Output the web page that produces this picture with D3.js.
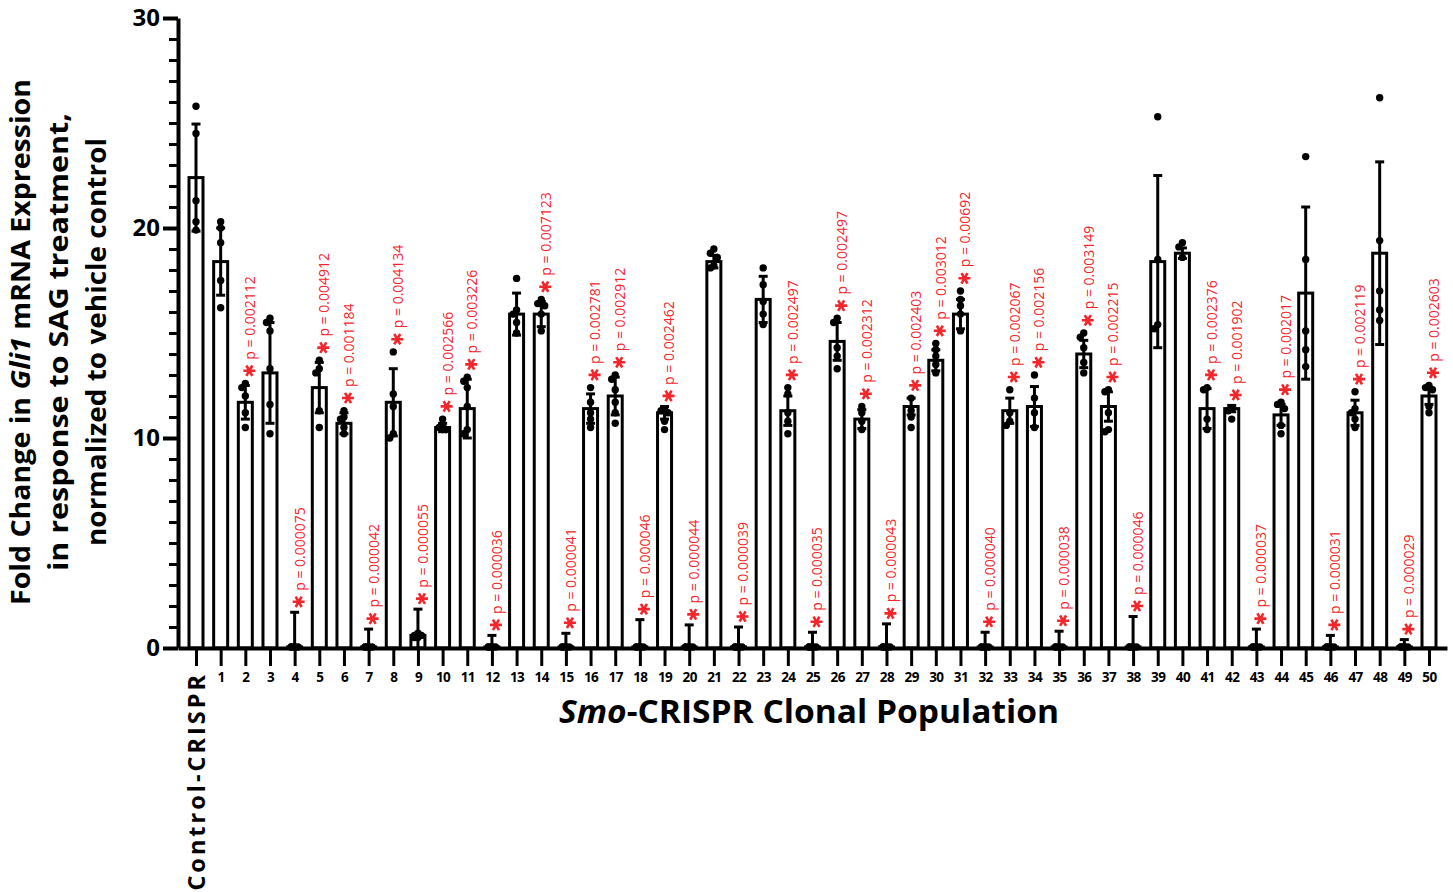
<!DOCTYPE html>
<html>
<head>
<meta charset="utf-8">
<script src="https://cdn.jsdelivr.net/npm/d3@7"></script>
<style>
  body { margin: 0; background: #fff; }
  svg { display: block; }
</style>
</head>
<body>
<div id="chart"></div>
<script>
const categories = ['Control-CRISPR', '1', '2', '3', '4', '5', '6', '7', '8', '9', '10',
  '11', '12', '13', '14', '15', '16', '17', '18', '19', '20',
  '21', '22', '23', '24', '25', '26', '27', '28', '29', '30',
  '31', '32', '33', '34', '35', '36', '37', '38', '39', '40',
  '41', '42', '43', '44', '45', '46', '47', '48', '49', '50']

const means = [22.4, 18.4, 11.7, 13.1, 0.05, 12.4, 10.7, 0.05, 11.7, 0.6, 10.5,
  11.4, 0.05, 15.9, 15.9, 0.05, 11.4, 12.0, 0.05, 11.2, 0.05,
  18.4, 0.05, 16.6, 11.3, 0.05, 14.6, 10.9, 0.05, 11.5, 13.7,
  15.9, 0.05, 11.3, 11.5, 0.05, 14.0, 11.5, 0.05, 18.4, 18.8,
  11.4, 11.4, 0.05, 11.1, 16.9, 0.05, 11.2, 18.8, 0.05, 12.0]

const sds = [2.55, 1.6, 0.8, 2.4, 1.65, 1.2, 0.5, 0.85, 1.6, 1.25, 0.2,
  1.4, 0.55, 1.0, 0.6, 0.65, 0.7, 0.9, 1.3, 0.3, 1.05,
  0.3, 0.95, 1.1, 0.7, 0.7, 0.9, 0.45, 1.1, 0.4, 0.5,
  0.7, 0.7, 0.6, 0.95, 0.75, 0.65, 0.7, 1.45, 4.1, 0.25,
  0.95, 0.15, 0.85, 0.5, 4.1, 0.55, 0.6, 4.35, 0.35, 0.4]

const replicates = [
  [25.8, 24.5, 21.3, 20.3, 19.9],
  [20.3, 20.0, 19.3, 17.5, 16.2],
  [12.6, 12.4, 12.0, 11.2, 10.5],
  [15.7, 15.5, 15.1, 13.3, 11.6, 10.2],
  [0.05, 0.05, 0.05, 0.05, 0.05],
  [13.7, 13.3, 13.1, 11.3, 10.5],
  [11.3, 11.0, 10.9, 10.5, 10.2],
  [0.05, 0.05, 0.05, 0.05, 0.05],
  [14.1, 12.1, 11.5, 10.2, 10.0],
  [0.7, 0.6, 0.5, 0.6, 0.5],
  [10.9, 10.6, 10.5, 10.4, 10.4],
  [12.9, 12.7, 12.4, 11.5, 10.4, 10.2],
  [0.05, 0.05, 0.05, 0.05, 0.05],
  [17.6, 16.1, 15.9, 15.5, 15.0],
  [16.6, 16.4, 16.3, 15.9, 15.1],
  [0.05, 0.05, 0.05, 0.05, 0.05],
  [12.4, 11.7, 11.2, 10.9, 10.5],
  [13.0, 12.8, 12.3, 11.7, 11.2, 10.7],
  [0.05, 0.05, 0.05, 0.05, 0.05],
  [11.4, 11.3, 11.2, 10.8, 10.4],
  [0.05, 0.05, 0.05, 0.05, 0.05],
  [19.0, 18.8, 18.6, 18.2, 18.1],
  [0.05, 0.05, 0.05, 0.05, 0.05],
  [18.1, 17.3, 16.5, 15.9, 15.4],
  [12.4, 12.1, 11.2, 10.8, 10.2],
  [0.05, 0.05, 0.05, 0.05, 0.05],
  [15.7, 15.5, 14.3, 13.9, 13.3],
  [11.5, 11.2, 10.8, 10.4],
  [0.05, 0.05, 0.05, 0.05, 0.05],
  [11.9, 11.3, 11.0, 10.5],
  [14.5, 14.2, 13.9, 13.5, 13.1],
  [17.0, 16.6, 16.3, 15.9, 15.1],
  [0.05, 0.05, 0.05, 0.05, 0.05],
  [12.3, 11.2, 10.8, 10.6],
  [13.0, 11.9, 11.2, 10.5],
  [0.05, 0.05, 0.05, 0.05, 0.05],
  [15.0, 14.8, 14.3, 13.6, 13.1],
  [12.3, 12.2, 11.2, 10.4, 10.3],
  [0.05, 0.05, 0.05, 0.05, 0.05],
  [25.3, 18.5, 15.4, 15.2],
  [19.3, 19.1, 18.6],
  [12.4, 12.3, 10.9, 10.4],
  [11.4, 11.3, 10.9],
  [0.05, 0.05, 0.05, 0.05, 0.05],
  [11.7, 11.6, 11.4, 10.6, 10.2],
  [23.4, 18.5, 15.1, 14.2, 13.4],
  [0.05, 0.05, 0.05, 0.05, 0.05],
  [12.2, 11.4, 11.2, 10.9, 10.5],
  [26.2, 19.4, 17.0, 16.1, 15.6],
  [0.05, 0.05, 0.05, 0.05, 0.05],
  [12.5, 12.4, 12.3, 11.5, 11.2]
]

const pValues = [null, null, '0.002112', null, '0.000075', '0.004912', '0.001184', '0.000042', '0.004134', '0.000055', '0.002566',
  '0.003226', '0.000036', null, '0.007123', '0.000041', '0.002781', '0.002912', '0.000046', '0.002462', '0.000044',
  null, '0.000039', null, '0.002497', '0.000035', '0.002497', '0.002312', '0.000043', '0.002403', '0.003012',
  '0.00692', '0.000040', '0.002067', '0.002156', '0.000038', '0.003149', '0.002215', '0.000046', null, null,
  '0.002376', '0.001902', '0.000037', '0.002017', null, '0.000031', '0.002119', null, '0.000029', '0.002603']

const yTickValues = [0, 10, 20, 30]

const WIDTH = 1453
const HEIGHT = 892
const PLOT = { left: 178, right: 1447, top: 18, bottom: 648 }
const RED = '#f3262c'
const FONT = "'Open Sans', 'Noto Sans', sans-serif"

const rows = categories.map((c, i) => ({
  name: c,
  mean: means[i],
  sd: sds[i],
  pts: replicates[i],
  p: pValues[i]
}))

const svg = d3.select('#chart').append('svg')
  .attr('width', WIDTH)
  .attr('height', HEIGHT)
  .style('font-family', FONT)

const y = d3.scaleLinear().domain([0, 30]).range([PLOT.bottom, PLOT.top])
const x = d3.scalePoint().domain(categories).range([PLOT.left, PLOT.right]).padding(0.73)

const barW = 14

// bars
svg.append('g').selectAll('rect')
  .data(rows)
  .join('rect')
  .attr('x', d => x(d.name) - barW / 2)
  .attr('width', barW)
  .attr('y', d => y(d.mean))
  .attr('height', d => y(0) - y(d.mean))
  .attr('fill', '#fff')
  .attr('stroke', '#000')
  .attr('stroke-width', 3)

// error bars (mean ± SD)
const err = svg.append('g').attr('stroke', '#000').attr('stroke-width', 3)
rows.forEach(d => {
  const cx = x(d.name)
  const hi = d.mean + d.sd
  const lo = Math.max(0, d.mean - d.sd)
  err.append('line').attr('x1', cx).attr('x2', cx).attr('y1', y(lo)).attr('y2', y(hi))
  err.append('line').attr('x1', cx - 4.5).attr('x2', cx + 4.5).attr('y1', y(hi)).attr('y2', y(hi))
  if (d.mean - d.sd > 0) {
    err.append('line').attr('x1', cx - 4.5).attr('x2', cx + 4.5).attr('y1', y(lo)).attr('y2', y(lo))
  }
})

// replicate dots, nudged sideways when they overlap
const dots = []
rows.forEach(d => {
  const sorted = d.pts.slice().sort((a, b) => b - a)
  let prev = null
  let prevDx = 0
  sorted.forEach(v => {
    let dx = 0
    if (prev !== null && Math.abs(y(v) - y(prev)) < 5) dx = prevDx === 0 ? -3.5 : (prevDx < 0 ? 3.5 : 0)
    dots.push({ cx: x(d.name) + dx, v })
    prev = v
    prevDx = dx
  })
})
svg.append('g').selectAll('circle')
  .data(dots)
  .join('circle')
  .attr('cx', d => d.cx)
  .attr('cy', d => y(d.v))
  .attr('r', 3.7)
  .attr('fill', '#000')

// significance marks
const sig = svg.append('g')
rows.filter(d => d.p).forEach(d => {
  const cx = x(d.name) + 4
  const maxPt = d3.max(d.pts)
  const topPx = Math.min(y(d.mean + d.sd) - 1.5, y(maxPt) - 3.7)
  const ay = topPx - 9
  const path = d3.path()
  for (let k = 0; k < 3; k++) {
    const a = k * Math.PI / 3
    path.moveTo(cx - 6 * Math.cos(a), ay - 6 * Math.sin(a))
    path.lineTo(cx + 6 * Math.cos(a), ay + 6 * Math.sin(a))
  }
  sig.append('path')
    .attr('d', path.toString())
    .attr('stroke', RED)
    .attr('stroke-width', 2.6)
    .attr('fill', 'none')
  sig.append('text')
    .attr('transform', `translate(${cx + 1},${topPx - 20}) rotate(-90)`)
    .attr('dy', '0.35em')
    .attr('font-size', 14)
    .attr('fill', RED)
    .text(`p = ${d.p}`)
})

// y axis
const yMinor = svg.append('g')
  .attr('transform', `translate(${PLOT.left},0)`)
  .call(d3.axisLeft(y).tickValues(d3.range(0, 31)).tickSize(9).tickFormat(''))
yMinor.select('.domain').remove()
yMinor.selectAll('.tick line').attr('stroke-width', 3)

const yAxis = svg.append('g')
  .attr('transform', `translate(${PLOT.left},0)`)
  .call(d3.axisLeft(y).tickValues(yTickValues).tickSize(15).tickPadding(3).tickSizeOuter(0))
yAxis.select('.domain').attr('stroke-width', 4)
yAxis.selectAll('.tick line').attr('stroke-width', 4)
yAxis.selectAll('.tick text')
  .attr('font-family', FONT)
  .attr('font-size', 24)
  .attr('font-weight', 700)
  .attr('fill', '#000')

// x axis
const xAxis = svg.append('g')
  .attr('transform', `translate(0,${PLOT.bottom})`)
  .call(d3.axisBottom(x).tickSize(18).tickPadding(6).tickSizeOuter(0))
xAxis.select('.domain').attr('stroke-width', 4)
xAxis.selectAll('.tick line').attr('stroke-width', 3)
xAxis.selectAll('.tick text')
  .attr('font-family', FONT)
  .attr('font-size', 13.5)
  .attr('font-weight', 700)
  .attr('letter-spacing', -0.6)
  .attr('fill', '#000')
xAxis.select('.tick text')
  .attr('transform', 'rotate(-90)')
  .attr('x', -24)
  .attr('y', 0)
  .attr('dy', '0.35em')
  .attr('text-anchor', 'end')
  .attr('font-size', 23.5)
  .attr('letter-spacing', 3)

// axis titles
const yTitle = svg.append('g')
  .attr('transform', 'translate(0,342) rotate(-90)')
  .attr('font-weight', 700)
  .attr('font-size', 26)
  .attr('text-anchor', 'middle')
const line1 = yTitle.append('text').attr('y', 30)
  .attr('textLength', 526).attr('lengthAdjust', 'spacingAndGlyphs')
line1.append('tspan').text('Fold Change in ')
line1.append('tspan').attr('font-style', 'italic').text('Gli1')
line1.append('tspan').text(' mRNA Expression')
yTitle.append('text').attr('y', 68).text('in response to SAG treatment,')
  .attr('textLength', 458).attr('lengthAdjust', 'spacingAndGlyphs')
yTitle.append('text').attr('y', 106).text('normalized to vehicle control')
  .attr('textLength', 408).attr('lengthAdjust', 'spacingAndGlyphs')

const xTitle = svg.append('text')
  .attr('x', 809)
  .attr('y', 723)
  .attr('text-anchor', 'middle')
  .attr('font-weight', 700)
  .attr('font-size', 32)
  .attr('textLength', 500)
  .attr('lengthAdjust', 'spacingAndGlyphs')
xTitle.append('tspan').attr('font-style', 'italic').text('Smo')
xTitle.append('tspan').text('-CRISPR Clonal Population')
</script>
</body>
</html>
